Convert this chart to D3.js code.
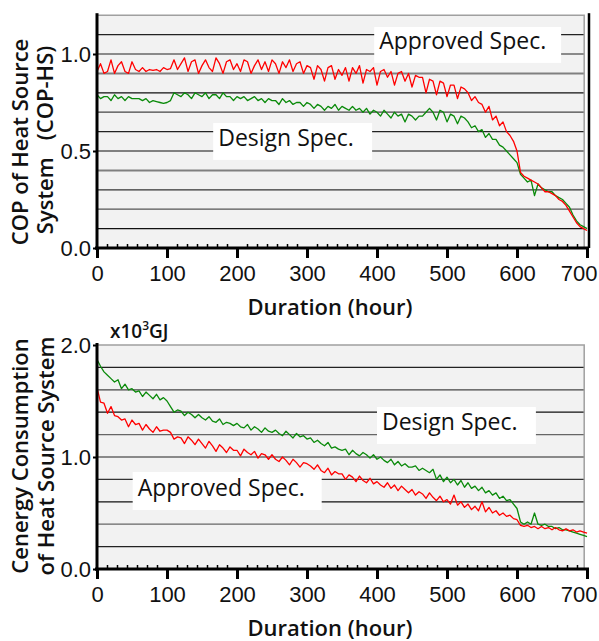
<!DOCTYPE html>
<html>
<head>
<meta charset="utf-8">
<script src="https://cdn.jsdelivr.net/npm/d3@7"></script>
<style>
body { margin: 0; background: #fff; }
svg { font-family: "Open Sans", Lato, sans-serif; font-weight: 500; }
</style>
</head>
<body>
<svg width="599" height="641"></svg>
<script>
// one reading every 5 hours, 0..700
var hours = d3.range(0, 701, 5);

var copApproved = [
    0.91, 0.95, 0.90, 0.91, 0.97, 0.90, 0.94, 0.96, 0.91, 0.90, 0.96, 0.92,
    0.91, 0.93, 0.91, 0.92, 0.915, 0.92, 0.91, 0.93, 0.92, 0.925,
    0.97, 0.92, 0.95, 0.98, 0.91, 0.96, 0.97, 0.90, 0.94, 0.97, 0.93, 0.91, 0.98, 0.95, 0.90, 0.96, 0.97, 0.92, 0.95, 0.91,
    0.97, 0.96, 0.90, 0.94, 0.97, 0.92, 0.96, 0.91, 0.97, 0.95, 0.90, 0.96, 0.93, 0.97, 0.91, 0.95, 0.96, 0.90, 0.94,
    0.93, 0.87, 0.94, 0.92, 0.86, 0.93, 0.94, 0.87, 0.92, 0.89, 0.93, 0.86,
    0.93, 0.90, 0.94, 0.85, 0.92, 0.91, 0.93, 0.84, 0.91, 0.92, 0.88, 0.91, 0.84, 0.90, 0.91, 0.86, 0.90, 0.83, 0.89, 0.88,
    0.88, 0.80, 0.87, 0.86, 0.79, 0.86,
    0.85, 0.78, 0.84, 0.84, 0.77, 0.83, 0.82,
    0.80, 0.76, 0.78, 0.75,
    0.74, 0.70, 0.73, 0.66,
    0.68, 0.63, 0.65, 0.60,
    0.58, 0.55, 0.50,
    0.39, 0.37, 0.36, 0.35, 0.34, 0.33,
    0.31, 0.29, 0.29, 0.28,
    0.27, 0.25, 0.24, 0.22,
    0.19, 0.16, 0.13, 0.11, 0.10, 0.09
];

var copDesign = [
    0.79, 0.77, 0.78, 0.78, 0.76, 0.79, 0.77, 0.78, 0.76, 0.78, 0.77, 0.77,
    0.77, 0.76, 0.77, 0.75, 0.76, 0.755, 0.75, 0.745, 0.75, 0.76,
    0.80, 0.79, 0.78, 0.80, 0.79, 0.77, 0.80, 0.79, 0.78, 0.80, 0.77, 0.79, 0.79, 0.77, 0.80, 0.78, 0.78, 0.76, 0.78, 0.77,
    0.78, 0.76, 0.77, 0.78, 0.76, 0.77, 0.75, 0.77, 0.76, 0.76, 0.74, 0.77, 0.75, 0.76, 0.74, 0.75, 0.75, 0.73, 0.75,
    0.74, 0.72, 0.74, 0.73, 0.71, 0.73, 0.72, 0.74, 0.71, 0.73, 0.72, 0.71,
    0.73, 0.71, 0.72, 0.70, 0.72, 0.69, 0.71, 0.70, 0.68, 0.71, 0.69, 0.67, 0.70, 0.68, 0.69, 0.65, 0.69, 0.68, 0.66, 0.68,
    0.68, 0.70, 0.72, 0.70, 0.66, 0.71,
    0.70, 0.65, 0.69, 0.68, 0.64, 0.68, 0.67,
    0.65, 0.62, 0.63, 0.60,
    0.61, 0.57, 0.59, 0.56,
    0.56, 0.53, 0.52, 0.50,
    0.48, 0.46, 0.44,
    0.38, 0.36, 0.34, 0.35, 0.27, 0.33,
    0.31, 0.30, 0.29, 0.29,
    0.27, 0.26, 0.25, 0.23,
    0.21, 0.17, 0.14, 0.12, 0.11, 0.10
];

var cenergyApproved = [
    1.62, 1.49, 1.48, 1.39, 1.45, 1.37, 1.36, 1.33, 1.34, 1.27,
    1.33, 1.29, 1.30, 1.24, 1.29, 1.25, 1.22, 1.27, 1.23, 1.24,
    1.24, 1.22, 1.16, 1.18, 1.17, 1.12, 1.18, 1.15, 1.11, 1.16,
    1.12, 1.08, 1.14, 1.10, 1.05, 1.11, 1.08, 1.04, 1.09, 1.06,
    1.06, 1.01, 1.07, 1.04, 1.02, 1.05, 0.99, 1.03, 1.02, 0.98,
    1.02, 0.98, 0.96, 1.00, 0.97, 0.93, 0.98, 0.95, 0.91, 0.95,
    0.94, 0.92, 0.89, 0.93, 0.88, 0.86, 0.90, 0.84, 0.87, 0.85,
    0.85, 0.80, 0.84, 0.82, 0.78, 0.83, 0.79, 0.77, 0.81, 0.76,
    0.78, 0.75, 0.73, 0.77, 0.72, 0.75, 0.70, 0.74, 0.71, 0.68,
    0.71, 0.66, 0.69, 0.67, 0.63, 0.68, 0.64, 0.61, 0.65, 0.60,
    0.62, 0.58, 0.66, 0.57, 0.60, 0.55, 0.58, 0.53, 0.56, 0.52,
    0.60, 0.51, 0.55, 0.50, 0.52, 0.48, 0.50, 0.47, 0.48, 0.45,
    0.44, 0.39, 0.38, 0.39, 0.37, 0.38, 0.36, 0.38, 0.36, 0.37,
    0.35, 0.37, 0.35, 0.34, 0.36, 0.34, 0.35, 0.33, 0.34, 0.33,
    0.32
];

var cenergyDesign = [
    1.87, 1.81, 1.76, 1.73, 1.70, 1.67, 1.69, 1.61, 1.65, 1.60,
    1.61, 1.58, 1.59, 1.54, 1.58, 1.55, 1.52, 1.56, 1.51, 1.53,
    1.50, 1.45, 1.40, 1.42, 1.41, 1.37, 1.40, 1.38, 1.35, 1.38,
    1.35, 1.33, 1.36, 1.32, 1.31, 1.34, 1.29, 1.31, 1.30, 1.28,
    1.30, 1.27, 1.26, 1.29, 1.24, 1.27, 1.25, 1.22, 1.26, 1.23,
    1.22, 1.24, 1.21, 1.19, 1.23, 1.20, 1.17, 1.21, 1.18, 1.19,
    1.16, 1.17, 1.13, 1.15, 1.12, 1.10, 1.13, 1.08, 1.09, 1.07,
    1.06, 1.07, 1.02, 1.06, 1.03, 1.01, 1.04, 1.02, 0.99, 1.02,
    0.98, 1.00, 0.97, 0.95, 0.98, 0.93, 0.96, 0.92, 0.94, 0.91,
    0.91, 0.92, 0.88, 0.90, 0.88, 0.86, 0.89, 0.80, 0.84, 0.78,
    0.82, 0.77, 0.80, 0.75, 0.79, 0.73, 0.77, 0.72, 0.74, 0.70,
    0.73, 0.68, 0.70, 0.66, 0.68, 0.63, 0.65, 0.61, 0.62, 0.58,
    0.54, 0.42, 0.40, 0.42, 0.40, 0.50, 0.40, 0.39, 0.40, 0.38,
    0.38, 0.36, 0.37, 0.35, 0.35, 0.34, 0.33, 0.32, 0.31, 0.30,
    0.29
];

var xTicks = [0, 100, 200, 300, 400, 500, 600, 700];
var copTicks = [0, 0.5, 1.0];
var copGrid = [0.1, 0.2, 0.3, 0.4, 0.5, 0.6, 0.7, 0.8, 0.9, 1.0, 1.1];
var cenergyTicks = [0, 1.0, 2.0];
var cenergyGrid = [0.2, 0.4, 0.6, 0.8, 1.0, 1.2, 1.4, 1.6, 1.8];

var svg = d3.select("svg"),
    x = d3.scaleLinear().domain([0, 700]).range([97, 587]),
    plotEnd = 696;

var RED = "#ff0000", GREEN = "#0a8a0a";

function drawPanel(p) {
    var y = d3.scaleLinear().domain([0, p.max]).range([p.bottom, p.top]),
        g = svg.append("g");

    g.append("rect")
        .attr("x", x(0)).attr("y", y(p.max))
        .attr("width", x(plotEnd) - x(0)).attr("height", y(0) - y(p.max))
        .attr("fill", "#f2f2f2");

    g.selectAll(".grid").data(p.grid).enter().append("line")
        .attr("x1", x(0)).attr("x2", x(plotEnd))
        .attr("y1", d => y(d)).attr("y2", d => y(d))
        .attr("stroke", (d, i) => p.gridColors[i % p.gridColors.length])
        .attr("stroke-width", (d, i) => p.gridColors[i % p.gridColors.length] == "#808080" ? 2 : 1.2);

    g.append("path")
        .attr("d", "M" + x(0) + "," + y(p.max) + "H" + x(plotEnd) + "V" + y(0))
        .attr("fill", "none").attr("stroke", "#a0a0a0").attr("stroke-width", 1.5);

    var line = d3.line().x((d, i) => x(hours[i])).y(d => y(d));
    p.series.forEach(s => {
        g.append("path").datum(s.values)
            .attr("fill", "none").attr("stroke", s.color)
            .attr("stroke-width", 1.3).attr("stroke-linejoin", "round")
            .attr("d", line);
    });

    p.labels.forEach(l => {
        g.append("rect")
            .attr("x", x(l.x0)).attr("y", y(l.y0))
            .attr("width", x(l.x1) - x(l.x0)).attr("height", y(l.y1) - y(l.y0))
            .attr("fill", "#fff");
        g.append("text")
            .attr("x", x(l.x0) + 5).attr("y", y(l.y1) - 14)
            .attr("font-size", 23).attr("fill", "#111")
            .text(l.text);
    });

    // x axis: major ticks outward, minor ticks inward
    var xa = g.append("g").attr("transform", "translate(0," + y(0) + ")")
        .call(d3.axisBottom(x).tickValues(xTicks).tickSize(10).tickSizeOuter(0).tickPadding(7));
    xa.select(".domain").attr("stroke-width", 3).attr("d", "M" + (x(0) - 2) + ",0H" + (x(700) + 2));
    xa.selectAll(".tick line").attr("stroke-width", 3);
    xa.selectAll(".tick text").attr("font-size", 22).attr("font-family", null).attr("fill", "#111")
        .filter(d => d == 700).attr("text-anchor", "end").attr("x", 10);

    var minor = d3.range(0, 700, 100 / 7).filter(h => h % 100 > 1 && h % 100 < 99);
    g.append("g").attr("transform", "translate(0," + y(0) + ")")
        .call(d3.axisBottom(x).tickValues(minor).tickSize(-4).tickFormat(""))
        .call(a => a.select(".domain").remove())
        .selectAll(".tick line").attr("stroke-width", 1.5);

    var ya = g.append("g").attr("transform", "translate(" + x(0) + ",0)")
        .call(d3.axisLeft(y).tickValues(p.ticks).tickFormat(d3.format(".1f")).tickSize(4).tickSizeOuter(0).tickPadding(2));
    ya.select(".domain").attr("stroke-width", 3).attr("d", "M0," + (y(p.max) - 2) + "V" + (y(0) + 2));
    ya.selectAll(".tick text").attr("font-size", 22).attr("font-family", null).attr("fill", "#111");
    ya.selectAll(".tick line").attr("stroke-width", 2);

    if (p.rightAxis) {
        g.append("line")
            .attr("x1", x(700) + 2).attr("x2", x(700) + 2)
            .attr("y1", y(p.max) - 2).attr("y2", y(0))
            .attr("stroke", "#000").attr("stroke-width", 2.5);
    }

    g.append("text")
        .attr("x", (x(0) + x(700)) / 2 - 12).attr("y", y(0) + 67)
        .attr("text-anchor", "middle").attr("font-size", 22).attr("font-weight", 600)
        .attr("fill", "#111")
        .text("Duration (hour)");

    p.yTitle.forEach(t => {
        var txt = g.append("text")
            .attr("transform", "translate(" + t.x + "," + t.y + ") rotate(-90)")
            .attr("text-anchor", "middle").attr("font-size", 22).attr("font-weight", 600)
            .attr("fill", "#111");
        t.parts.forEach(part => txt.append("tspan").attr("dx", part.dx || 0).text(part.s));
    });
    return y;
}

drawPanel({
    max: 1.2, top: 15.2, bottom: 248,
    ticks: copTicks, grid: copGrid,
    gridColors: ["#111", "#555", "#333", "#808080", "#808080", "#222", "#444", "#111", "#808080", "#222", "#222"],
    rightAxis: true,
    series: [{values: copDesign, color: GREEN}, {values: copApproved, color: RED}],
    labels: [
        {text: "Approved Spec.", x0: 396, x1: 663, y0: 1.139, y1: 0.954},
        {text: "Design Spec.", x0: 166, x1: 393, y0: 0.644, y1: 0.454}
    ],
    yTitle: [
        {x: 28, y: 142, parts: [{s: "COP of Heat Source"}]},
        {x: 53, y: 140, parts: [{s: "System"}, {s: "(COP-HS)", dx: 17}]}
    ]
});

var yc = drawPanel({
    max: 2.0, top: 345, bottom: 569,
    ticks: cenergyTicks, grid: cenergyGrid,
    gridColors: ["#222", "#666", "#111", "#333", "#222", "#666", "#111", "#444", "#222"],
    rightAxis: false,
    series: [{values: cenergyDesign, color: GREEN}, {values: cenergyApproved, color: RED}],
    labels: [
        {text: "Design Spec.", x0: 400, x1: 627, y0: 1.446, y1: 1.116},
        {text: "Approved Spec.", x0: 51, x1: 321, y0: 0.866, y1: 0.527}
    ],
    yTitle: [
        {x: 28, y: 456, parts: [{s: "Cenergy Consumption"}]},
        {x: 54, y: 456, parts: [{s: "of Heat Source System"}]}
    ]
});

// unit note above the lower panel
var unit = svg.append("text")
    .attr("x", 110).attr("y", yc(2.0) - 7)
    .attr("font-size", 19).attr("font-weight", 600).attr("fill", "#111");
unit.append("tspan").text("x10");
unit.append("tspan").attr("font-size", 12).attr("dy", -8).text("3");
unit.append("tspan").attr("dy", 8).text("GJ");
</script>
</body>
</html>
